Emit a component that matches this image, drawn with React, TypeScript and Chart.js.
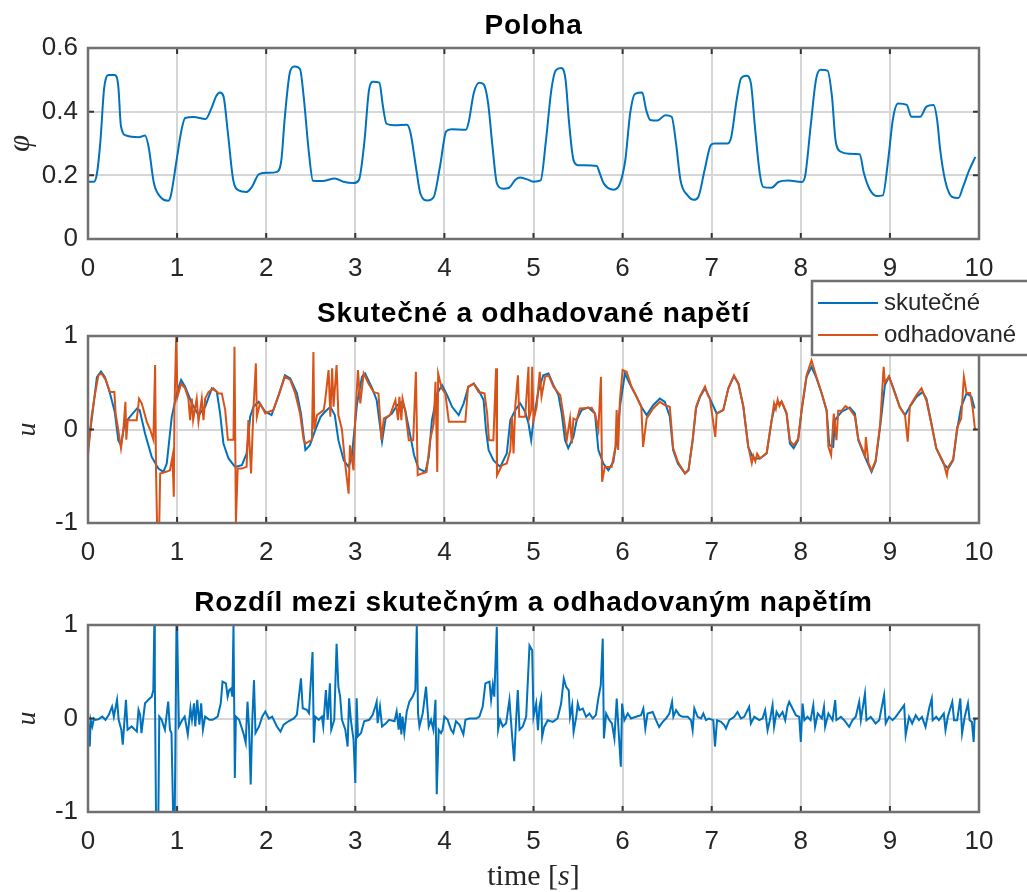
import { useEffect, useRef } from 'react';
import { Chart, registerables } from 'chart.js';

Chart.register(...registerables);

// ---- Poloha (position) ----
const polohaT = [
  0, 0.066, 0.1, 0.14, 0.18, 0.23, 0.3, 0.34, 0.37, 0.43, 0.57, 0.64, 0.68, 0.74, 0.82, 0.9, 0.93, 0.99,
  1.05, 1.09, 1.185, 1.32, 1.38, 1.44, 1.48, 1.52, 1.57, 1.63, 1.69, 1.78, 1.84, 1.92,
  2.02, 2.12, 2.17, 2.21, 2.27, 2.32, 2.38, 2.42, 2.48, 2.525, 2.63, 2.77, 2.865, 2.98,
  3.04, 3.1, 3.155, 3.2, 3.27, 3.31, 3.35, 3.44, 3.58, 3.62, 3.68, 3.73, 3.81, 3.88, 3.95,
  4.02, 4.08, 4.24, 4.27, 4.33, 4.39, 4.44, 4.49, 4.54, 4.59, 4.66, 4.72, 4.8, 4.85, 4.95,
  5.0, 5.08, 5.14, 5.2, 5.25, 5.31, 5.36, 5.4, 5.45, 5.5, 5.71, 5.745, 5.79, 5.9, 5.97,
  6.03, 6.085, 6.14, 6.22, 6.265, 6.31, 6.39, 6.48, 6.55, 6.6, 6.65, 6.73, 6.8, 6.85, 6.92, 6.99,
  7.03, 7.18, 7.22, 7.28, 7.33, 7.39, 7.44, 7.485, 7.54, 7.58, 7.67, 7.75, 7.86,
  8.01, 8.05, 8.11, 8.17, 8.22, 8.3, 8.35, 8.39, 8.45, 8.54, 8.66, 8.71, 8.77, 8.85, 8.92, 8.98,
  9.035, 9.09, 9.19, 9.24, 9.34, 9.41, 9.49, 9.53, 9.565, 9.62, 9.7, 9.77, 9.82, 9.89, 9.96,
];
const polohaPhi = [
  0.18, 0.18, 0.205, 0.31, 0.47, 0.515, 0.515, 0.48, 0.354, 0.325, 0.32, 0.325, 0.29, 0.175, 0.13, 0.12, 0.137, 0.24,
  0.343, 0.38, 0.383, 0.377, 0.407, 0.449, 0.46, 0.449, 0.333, 0.185, 0.153, 0.148, 0.164, 0.204,
  0.208, 0.211, 0.248, 0.386, 0.528, 0.542, 0.533, 0.449, 0.269, 0.183, 0.182, 0.19, 0.18, 0.176,
  0.185, 0.3, 0.47, 0.494, 0.491, 0.417, 0.362, 0.357, 0.359, 0.333, 0.227, 0.143, 0.121, 0.132, 0.227,
  0.338, 0.345, 0.343, 0.364, 0.459, 0.491, 0.486, 0.428, 0.29, 0.174, 0.158, 0.16, 0.187, 0.193, 0.185,
  0.18, 0.184, 0.31, 0.468, 0.53, 0.537, 0.5, 0.363, 0.247, 0.232, 0.229, 0.205, 0.174, 0.155, 0.174,
  0.247, 0.395, 0.456, 0.46, 0.405, 0.374, 0.372, 0.389, 0.384, 0.3, 0.184, 0.137, 0.123, 0.132, 0.216, 0.295,
  0.3, 0.3, 0.321, 0.437, 0.505, 0.513, 0.489, 0.353, 0.205, 0.163, 0.161, 0.179, 0.184,
  0.179, 0.2, 0.353, 0.5, 0.532, 0.529, 0.447, 0.31, 0.274, 0.268, 0.266, 0.205, 0.158, 0.135, 0.137, 0.247,
  0.379, 0.426, 0.421, 0.384, 0.384, 0.416, 0.421, 0.374, 0.279, 0.184, 0.132, 0.129, 0.163, 0.216, 0.258,
];

// ---- skutečné napětí (measured voltage) ----
const skutT = [
  0, 0.05, 0.1, 0.146, 0.19, 0.247, 0.3, 0.34, 0.37, 0.41, 0.47, 0.55, 0.58, 0.64, 0.715, 0.79, 0.846, 0.884, 0.94, 0.996,
  1.045, 1.09, 1.165, 1.24, 1.315, 1.39, 1.446, 1.483, 1.52, 1.577, 1.65, 1.727, 1.78, 1.82, 1.857, 1.914, 1.99,
  2.06, 2.14, 2.21, 2.27, 2.345, 2.39, 2.44, 2.49, 2.55, 2.61, 2.66, 2.72, 2.77, 2.81, 2.87, 2.925, 2.96,
  3.02, 3.075, 3.11, 3.19, 3.24, 3.3, 3.34, 3.41, 3.47, 3.525, 3.56, 3.62, 3.66, 3.71, 3.787, 3.825, 3.86, 3.92, 3.974,
  4.03, 4.086, 4.16, 4.216, 4.27, 4.33, 4.384, 4.44, 4.466, 4.496, 4.55, 4.627, 4.7, 4.74, 4.795, 4.85, 4.906, 4.944, 4.974,
  5.0, 5.056, 5.11, 5.168, 5.224, 5.28, 5.317, 5.354, 5.39, 5.448, 5.485, 5.54, 5.616, 5.69, 5.728, 5.784, 5.84, 5.896, 5.933, 5.97,
  6.026, 6.08, 6.138, 6.21, 6.27, 6.343, 6.418, 6.474, 6.53, 6.567, 6.62, 6.7, 6.74, 6.787, 6.824, 6.87, 6.925, 6.98,
  7.056, 7.13, 7.187, 7.25, 7.3, 7.355, 7.41, 7.467, 7.54, 7.617, 7.673, 7.71, 7.785, 7.84, 7.878, 7.92, 7.97,
  8.01, 8.065, 8.12, 8.17, 8.234, 8.29, 8.32, 8.364, 8.383, 8.458, 8.55, 8.607, 8.645, 8.72, 8.794, 8.84, 8.89, 8.944, 8.99,
  9.04, 9.11, 9.17, 9.224, 9.3, 9.366, 9.41, 9.467, 9.52, 9.6, 9.654, 9.71, 9.755, 9.8, 9.86, 9.916, 9.95,
];
const skutU = [
  -0.2, 0.17, 0.56, 0.62, 0.56, 0.386, 0.19, -0.114, -0.17, 0.064, 0.136, 0.225, 0.207, -0.043, -0.293, -0.418, -0.454, -0.364, 0.136, 0.386,
  0.53, 0.457, 0.28, 0.154, 0.243, 0.44, 0.404, 0.171, -0.15, -0.31, -0.4, -0.382, -0.257, 0.136, 0.243, 0.296, 0.19,
  0.154, 0.368, 0.58, 0.546, 0.386, 0.171, -0.22, -0.168, -0.007, 0.136, 0.19, 0.243, 0.154, -0.114, -0.329, -0.4, -0.293,
  0.28, 0.564, 0.6, 0.44, 0.314, -0.13, 0.118, 0.171, 0.26, 0.296, 0.207, -0.079, -0.275, -0.418, -0.454, -0.293, 0.1, 0.386, 0.475,
  0.368, 0.243, 0.154, 0.28, 0.457, 0.49, 0.42, 0.314, 0, -0.22, -0.329, -0.4, -0.257, 0.1, 0.207, 0.28, 0.19, 0.064, -0.114,
  0.1, 0.42, 0.58, 0.6, 0.475, 0.368, 0.171, -0.114, -0.2, -0.079, 0.1, 0.207, 0.236, 0.171, -0.22, -0.364, -0.436, -0.346, -0.114, 0.243,
  0.6, 0.49, 0.386, 0.243, 0.154, 0.26, 0.33, 0.296, 0.136, -0.22, -0.364, -0.47, -0.436, -0.114, 0.225, 0.35, 0.44, 0.33,
  0.171, 0.207, 0.44, 0.57, 0.49, 0.243, -0.186, -0.31, -0.31, -0.257, 0.1, 0.26, 0.296, 0.171, -0.15, -0.2, -0.114,
  0.207, 0.564, 0.67, 0.564, 0.386, 0.207, -0.168, -0.186, 0.1, 0.19, 0.236, 0.171, -0.114, -0.293, -0.454, -0.346, 0.029, 0.475, 0.564,
  0.44, 0.243, 0.154, 0.243, 0.35, 0.4, 0.33, 0.064, -0.2, -0.364, -0.418, -0.329, 0, 0.243, 0.386, 0.35, 0.225,
];

// ---- odhadované napětí (estimated voltage) ----
const odhadT = [
  0, 0.04, 0.07, 0.116, 0.15, 0.2, 0.247, 0.296, 0.31, 0.34, 0.37, 0.397, 0.42, 0.43, 0.446, 0.547, 0.573, 0.603, 0.66, 0.697,
  0.734, 0.753, 0.764, 0.775, 0.8, 0.81, 0.884, 0.92, 0.948, 0.963, 0.97, 0.99,
  1.004, 1.045, 1.09, 1.127, 1.146, 1.165, 1.18, 1.22, 1.24, 1.277, 1.296, 1.315, 1.352, 1.408, 1.465, 1.502, 1.54, 1.57,
  1.633, 1.644, 1.66, 1.68, 1.727, 1.78, 1.8, 1.83, 1.857, 1.884, 1.895, 1.93, 1.99,
  2.03, 2.08, 2.14, 2.21, 2.27, 2.326, 2.38, 2.42, 2.44, 2.513, 2.53, 2.54, 2.57, 2.645, 2.66, 2.7, 2.72, 2.74, 2.756, 2.79,
  2.81, 2.85, 2.886, 2.925, 2.94, 2.98,
  3.0, 3.03, 3.056, 3.094, 3.15, 3.206, 3.26, 3.295, 3.32, 3.39, 3.45, 3.48, 3.495, 3.517, 3.53, 3.56, 3.6, 3.65, 3.68, 3.7,
  3.747, 3.8, 3.84, 3.88, 3.9, 3.92, 3.93, 3.97,
  4.01, 4.05, 4.235, 4.265, 4.33, 4.384, 4.45, 4.48, 4.5, 4.55, 4.58, 4.59, 4.645, 4.7, 4.74, 4.757, 4.776, 4.795, 4.825, 4.84,
  4.906, 4.944, 4.95, 4.974, 4.985,
  5.0, 5.035, 5.07, 5.09, 5.13, 5.17, 5.224, 5.3, 5.336, 5.373, 5.41, 5.43, 5.448, 5.485, 5.52, 5.653, 5.69, 5.728, 5.757, 5.77,
  5.8, 5.877, 5.92, 5.933, 5.95, 5.97,
  6.0, 6.045, 6.1, 6.157, 6.21, 6.23, 6.27, 6.343, 6.418, 6.474, 6.53, 6.567, 6.62, 6.7, 6.74, 6.787, 6.824, 6.87, 6.925, 6.96, 6.98,
  7.04, 7.056, 7.13, 7.187, 7.25, 7.3, 7.355, 7.41, 7.45, 7.467, 7.49, 7.51, 7.54, 7.58, 7.617, 7.673, 7.7, 7.72, 7.74, 7.76,
  7.785, 7.84, 7.878, 7.92, 7.97,
  8.01, 8.065, 8.12, 8.17, 8.234, 8.29, 8.31, 8.34, 8.37, 8.4, 8.42, 8.458, 8.5, 8.55, 8.607, 8.645, 8.72, 8.73, 8.76, 8.794,
  8.84, 8.89, 8.93, 8.944, 8.99,
  9.04, 9.11, 9.17, 9.2, 9.224, 9.3, 9.355, 9.41, 9.467, 9.52, 9.6, 9.64, 9.654, 9.71, 9.755, 9.8, 9.83, 9.86, 9.9, 9.93, 9.955,
];
const odhadU = [
  -0.275, 0.136, 0.33, 0.58, 0.6, 0.53, 0.4, 0.4, 0.17, -0.007, -0.2, 0, 0.296, -0.11, 0.1, 0.1, 0.33, 0.28, 0.082, 0,
  -0.11, 0.69, -0.47, -1, -1, -0.47, -0.45, -0.436, -0.29, -0.72, 0.207, 1,
  0.35, 0.49, 0.44, 0.33, 0.1, 0.33, 0.1, 0.33, 0.082, 0.33, 0.1, 0.33, 0.4, 0.44, 0.386, 0.386, 0.207, -0.11,
  -0.11, 0.886, -1, -0.418, -0.418, -0.4, 0.1, -0.47, 0.225, 0.707, 0.136, 0.28, 0.171,
  0.19, 0.207, 0.368, 0.564, 0.53, 0.386, 0.171, -0.11, -0.15, -0.11, 0.83, 0, 0.154, 0.207, 0.296, 0.636, 0.136, 0.654, 0.243, 0.69,
  0.154, 0, -0.364, -0.686, -0.17, -0.436,
  0.136, 0.636, 0.28, 0.6, 0.49, 0.4, 0.386, -0.114, 0.118, 0.154, 0.314, 0.1, 0.35, 0.1, 0.33, 0.207, -0.114, -0.114, 0.618, -0.49,
  -0.47, -0.454, -0.114, 0.064, 0.51, -0.454, 0.6, 0.44,
  0.386, 0.082, 0.082, 0.457, 0.49, 0.4, 0.386, 0.171, -0.114, -0.114, 0.654, -0.49, -0.382, -0.364, -0.22, 0.136, -0.257, 0.243, 0.58, 0.136,
  0.136, 0.67, 0.118, 0.207, 0.67,
  0.1, 0.243, 0.618, 0.35, 0.564, 0.58, 0.457, 0.368, 0.154, -0.114, 0.118, -0.15, 0.118, 0.1, 0.225, 0.232, 0.171, 0, 0.564, -0.56,
  -0.4, -0.4, -0.186, 0.207, -0.22, 0.314,
  0.636, 0.618, 0.457, 0.35, 0.243, -0.186, 0.118, 0.225, 0.296, 0.26, 0.243, -0.2, -0.346, -0.47, -0.43, -0.1, 0.24, 0.36, 0.46, 0.36, 0.33,
  -0.08, 0.17, 0.21, 0.44, 0.58, 0.49, 0.25, -0.18, -0.36, -0.28, -0.34, -0.26, -0.31, -0.28, -0.25, 0.1, 0.28, 0.22, 0.32, 0.25,
  0.3, 0.18, -0.12, -0.17, -0.1,
  0.22, 0.58, 0.74, 0.58, 0.39, 0.2, -0.186, -0.275, 0.17, -0.114, 0.2, 0.2, 0.25, 0.22, 0.14, -0.1, -0.28, -0.08, -0.36, -0.44,
  -0.33, 0.05, 0.67, 0.5, 0.57,
  0.43, 0.24, 0.15, -0.13, 0.25, 0.37, 0.44, 0.31, 0.05, -0.2, -0.35, -0.49, -0.4, -0.32, 0.02, 0.118, 0.564, 0.39, 0.39, 0.22, 0,
];

// ---- rozdíl (difference between measured and estimated) ----
const rozdilT = [
  0, 0.02, 0.03, 0.048, 0.067, 0.085, 0.12, 0.16, 0.196, 0.233, 0.27, 0.29, 0.326, 0.344, 0.374, 0.39, 0.41, 0.426, 0.444, 0.49,
  0.548, 0.567, 0.585, 0.6, 0.64, 0.678, 0.715, 0.733, 0.744, 0.75, 0.763, 0.79, 0.8, 0.826, 0.863, 0.9, 0.92, 0.937, 0.955, 0.974, 0.993,
  1.0, 1.02, 1.05, 1.085, 1.12, 1.15, 1.167, 1.19, 1.204, 1.226, 1.25, 1.27, 1.29, 1.315, 1.363, 1.4, 1.455, 1.49, 1.51, 1.548,
  1.567, 1.585, 1.604, 1.62, 1.633, 1.648, 1.66, 1.696, 1.744, 1.77, 1.79, 1.807, 1.826, 1.844, 1.863, 1.88, 1.92, 1.955, 1.99,
  2.03, 2.067, 2.12, 2.16, 2.196, 2.25, 2.31, 2.344, 2.363, 2.39, 2.41, 2.456, 2.48, 2.52, 2.535, 2.55, 2.59, 2.625, 2.64, 2.67,
  2.69, 2.715, 2.73, 2.764, 2.79, 2.81, 2.83, 2.85, 2.888, 2.914, 2.93, 2.95, 2.98,
  3.0, 3.015, 3.03, 3.064, 3.1, 3.157, 3.195, 3.225, 3.24, 3.25, 3.277, 3.3, 3.345, 3.38, 3.44, 3.464, 3.487, 3.5, 3.517, 3.53,
  3.55, 3.577, 3.607, 3.644, 3.674, 3.69, 3.704, 3.72, 3.757, 3.794, 3.824, 3.85, 3.876, 3.9, 3.914, 3.936, 3.962, 3.98,
  4.0, 4.037, 4.075, 4.1, 4.13, 4.17, 4.213, 4.236, 4.28, 4.356, 4.393, 4.43, 4.46, 4.506, 4.524, 4.543, 4.56, 4.588, 4.603, 4.625,
  4.655, 4.693, 4.73, 4.76, 4.783, 4.805, 4.824, 4.843, 4.88, 4.918, 4.955, 4.985,
  5.0, 5.03, 5.05, 5.067, 5.086, 5.097, 5.12, 5.16, 5.217, 5.27, 5.31, 5.34, 5.366, 5.396, 5.41, 5.434, 5.45, 5.48, 5.497, 5.516,
  5.553, 5.59, 5.628, 5.665, 5.7, 5.73, 5.755, 5.777, 5.79, 5.815, 5.852, 5.88, 5.908, 5.934, 5.957, 5.98, 5.994,
  6.02, 6.058, 6.095, 6.15, 6.207, 6.233, 6.255, 6.28, 6.338, 6.375, 6.41, 6.45, 6.487, 6.525, 6.555, 6.57, 6.6, 6.637, 6.674, 6.73,
  6.768, 6.786, 6.805, 6.842, 6.88, 6.906, 6.936, 6.97,
  7.018, 7.037, 7.06, 7.104, 7.14, 7.16, 7.197, 7.253, 7.29, 7.328, 7.365, 7.42, 7.44, 7.478, 7.534, 7.57, 7.6, 7.627, 7.653, 7.683,
  7.7, 7.728, 7.758, 7.795, 7.825, 7.85, 7.87, 7.907, 7.945, 7.982,
  8.0, 8.02, 8.04, 8.075, 8.11, 8.14, 8.16, 8.19, 8.236, 8.26, 8.273, 8.31, 8.356, 8.386, 8.4, 8.45, 8.487, 8.543, 8.58, 8.617,
  8.655, 8.674, 8.72, 8.737, 8.785, 8.84, 8.88, 8.935, 8.953, 8.99,
  9.03, 9.066, 9.12, 9.16, 9.177, 9.215, 9.25, 9.29, 9.326, 9.36, 9.4, 9.44, 9.47, 9.48, 9.52, 9.55, 9.605, 9.624, 9.65, 9.7,
  9.72, 9.755, 9.79, 9.81, 9.84, 9.876, 9.895, 9.92, 9.94, 9.95, 9.96,
];
const rozdilU = [
  0, -0.3, -0.014, -0.085, 0, -0.014, -0.007, 0.02, -0.014, 0.04, 0.128, 0.02, 0.2, -0.014, -0.12, -0.28, -0.014, 0.2, -0.12, -0.085,
  -0.14, 0.092, 0.04, -0.156, 0.163, 0.2, 0.234, 0.305, 1, 0.41, -1, -1, 0.02, -0.014, -0.12, 0.18, -0.12, -0.156, -1, -1, 1,
  1, -0.085, -0.03, 0.02, -0.17, 0.11, -0.014, 0.163, -0.085, 0.2, -0.067, 0.163, -0.12, 0.02, -0.014, -0.014, 0.02, 0.163, 0.394, 0.376,
  0.234, 0.305, 0.32, 0.234, 1, -0.635, 0.02, -0.014, -0.156, -0.26, 0.18, -0.085, -0.705, -0.014, 0.41, -0.156, -0.085, 0.02, 0.074,
  0, 0.02, -0.085, -0.14, -0.067, -0.03, 0, 0.04, 0.2, 0.43, 0.11, 0.092, 0.057, 0.71, -0.26, 0.02, -0.014, 0.02, -0.085, 0.305,
  -0.014, 0.376, -0.12, -0.014, 0.8, 0.34, 0.234, -0.014, -0.12, -0.3, 0.216, -0.014, -0.227,
  -0.69, 0.216, -0.19, -0.156, -0.03, -0.014, 0.04, 0.128, 0.18, -0.05, 0.128, -0.085, -0.05, -0.014, -0.03, 0.074, -0.12, 0.057, -0.17, 0.02,
  -0.156, 0.074, 0.18, 0.234, 0.305, 1, 0.057, -0.085, 0.057, 0.34, -0.085, -0.014, -0.12, 0.2, -0.81, -0.12, -0.156, -0.12,
  0.02, -0.014, -0.12, -0.156, -0.03, -0.067, -0.17, -0.014, 0, 0, 0.02, 0.128, 0.376, 0.394, 0.2, 0.358, 0.234, 0.98, -0.12, -0.014,
  -0.085, -0.05, 0.2, -0.19, -0.457, -0.014, 0.305, -0.12, -0.085, 0.02, 0.78, 0.73,
  0.02, 0.16, -0.125, 0.125, 0.214, -0.196, -0.09, -0.018, -0.036, 0, 0.16, 0.427, 0.338, 0.3, 0.018, 0.142, -0.142, 0.018, 0.16, 0.09,
  0.107, 0.018, 0.053, 0, 0.036, 0.23, 0.356, 0.854, -0.214, 0.053, -0.018, -0.053, -0.214, 0.214, -0.16, -0.516, 0.16,
  -0.018, 0.053, 0, 0.018, 0.036, 0.107, -0.107, 0.053, 0.07, -0.018, -0.09, -0.036, 0, 0.053, 0.178, 0.018, 0.09, 0.036, 0.018, 0.018,
  -0.018, -0.125, 0.107, 0.018, 0, 0.053, -0.018, 0,
  -0.018, -0.3, -0.018, -0.036, -0.07, -0.107, -0.018, 0.018, 0.07, 0, 0.018, 0.125, -0.053, 0.018, -0.018, 0, 0.09, -0.125, -0.018, 0.142,
  -0.09, 0.07, 0.018, 0.07, -0.018, 0.125, 0.178, 0.107, 0.036, 0.018,
  -0.25, 0.16, -0.018, 0.018, -0.018, 0.142, -0.09, 0.053, 0, 0.125, -0.09, 0.053, -0.018, 0.196, -0.018, 0.018, -0.018, -0.09, -0.018, 0.018,
  0.178, -0.018, 0.267, -0.018, 0.018, -0.053, -0.018, 0.25, -0.053, 0.018,
  -0.018, 0.018, 0.09, 0.142, -0.178, 0.018, -0.053, 0.036, -0.018, 0.018, -0.09, 0.107, 0.214, -0.018, 0.018, -0.018, 0.053, -0.125, 0.018, 0.178,
  -0.018, -0.018, 0.214, -0.16, 0.018, 0.16, -0.018, -0.036, -0.25, -0.018, 0,
];

const xTicks = [0, 10];
const titles = ['Poloha', 'Skutečné a odhadované napětí', 'Rozdíl mezi skutečným a odhadovaným napětím'];
const legendLabels = ['skutečné', 'odhadované'];
const xTitleParts = ['time [', 's', ']'];

const W = 1027;
const H = 892;
const LEFT = 88;
const RIGHT = 979;
const XH = 40;
const BLUE = '#0072BD';
const ORANGE = '#D95319';
const GRID = '#d6d6d6';
const BOX = '#707070';
const TICK = '#333333';
const TEXT = '#262626';
const SANS = '"Liberation Sans", Arial, Helvetica, sans-serif';
const SERIF = '"Liberation Serif", "Times New Roman", serif';

const pts = (t: number[], v: number[]) => t.map((x, i) => ({ x, y: v[i] }));

type PanelCfg = {
  title: string;
  top: number;
  bottom: number;
  yMin: number;
  yMax: number;
  yStep: number;
  yLabel: string;
  yLabelSize: number;
  yLabelPad: number;
  datasets: any[];
  legend?: boolean;
  xTitle?: boolean;
};

function decorations(cfg: PanelCfg) {
  return {
    id: 'decorations',
    afterDatasetsDraw(chart: any) {
      const { ctx, chartArea: a, scales } = chart;
      const tl = 6;
      ctx.save();
      ctx.strokeStyle = TICK;
      ctx.lineWidth = 2;
      ctx.beginPath();
      scales.x.ticks.forEach((t: any) => {
        const px = scales.x.getPixelForValue(t.value);
        ctx.moveTo(px, a.top);
        ctx.lineTo(px, a.top + tl);
        ctx.moveTo(px, a.bottom);
        ctx.lineTo(px, a.bottom - tl);
      });
      scales.y.ticks.forEach((t: any) => {
        const py = scales.y.getPixelForValue(t.value);
        ctx.moveTo(a.left, py);
        ctx.lineTo(a.left + tl, py);
        ctx.moveTo(a.right, py);
        ctx.lineTo(a.right - tl, py);
      });
      ctx.stroke();
      ctx.strokeStyle = BOX;
      ctx.lineWidth = 2.5;
      ctx.strokeRect(a.left, a.top, a.right - a.left, a.bottom - a.top);
      ctx.restore();
    },
    afterDraw(chart: any) {
      const { ctx, chartArea: a } = chart;
      const cx = (a.left + a.right) / 2;
      ctx.save();
      // panel title
      ctx.fillStyle = '#000';
      ctx.font = `bold 28px ${SANS}`;
      (ctx as any).letterSpacing = '0.8px';
      ctx.textAlign = 'center';
      ctx.textBaseline = 'alphabetic';
      ctx.fillText(cfg.title, cx, a.top - 14);
      (ctx as any).letterSpacing = '0px';

      if (cfg.legend) {
        const lx = 812;
        const ly = 281;
        ctx.fillStyle = '#fff';
        ctx.fillRect(lx, ly, 240, 74);
        ctx.strokeStyle = BOX;
        ctx.lineWidth = 2.5;
        ctx.strokeRect(lx, ly, 240, 74);
        const rows = [
          { label: legendLabels[0], color: BLUE, y: ly + 22 },
          { label: legendLabels[1], color: ORANGE, y: ly + 54 },
        ];
        ctx.font = `24px ${SANS}`;
        ctx.textAlign = 'left';
        ctx.textBaseline = 'middle';
        rows.forEach((r) => {
          ctx.strokeStyle = r.color;
          ctx.lineWidth = 2;
          ctx.beginPath();
          ctx.moveTo(lx + 6, r.y);
          ctx.lineTo(lx + 66, r.y);
          ctx.stroke();
          ctx.fillStyle = TEXT;
          ctx.fillText(r.label, lx + 72, r.y);
        });
      }

      if (cfg.xTitle) {
        ctx.fillStyle = TEXT;
        ctx.textBaseline = 'alphabetic';
        ctx.textAlign = 'left';
        const fonts = [`30px ${SERIF}`, `italic 30px ${SERIF}`, `30px ${SERIF}`];
        const widths = xTitleParts.map((p, i) => {
          ctx.font = fonts[i];
          return ctx.measureText(p).width;
        });
        let x = cx - widths.reduce((s, w) => s + w, 0) / 2;
        xTitleParts.forEach((p, i) => {
          ctx.font = fonts[i];
          ctx.fillText(p, x, 885);
          x += widths[i];
        });
      }
      ctx.restore();
    },
  };
}

function makeChart(canvas: HTMLCanvasElement, cfg: PanelCfg) {
  const tickFont = { family: SANS, size: 26 };
  return new Chart(canvas, {
    type: 'line',
    data: { datasets: cfg.datasets },
    options: {
      responsive: false,
      maintainAspectRatio: false,
      animation: false,
      events: [],
      layout: { padding: { left: 0, right: W - RIGHT, top: cfg.top, bottom: H - cfg.bottom - XH } },
      plugins: { legend: { display: false }, tooltip: { enabled: false }, title: { display: false } },
      scales: {
        x: {
          type: 'linear',
          min: xTicks[0],
          max: xTicks[1],
          afterFit: (s: any) => {
            s.height = XH;
          },
          ticks: {
            stepSize: 1,
            padding: 14,
            autoSkip: false,
            maxRotation: 0,
            color: TEXT,
            font: tickFont,
            callback: (v: any) => String(v),
          },
          grid: { color: GRID, lineWidth: 2, drawTicks: false },
          border: { display: false },
        },
        y: {
          type: 'linear',
          min: cfg.yMin,
          max: cfg.yMax,
          afterFit: (s: any) => {
            s.width = LEFT;
          },
          ticks: {
            stepSize: cfg.yStep,
            padding: 10,
            color: TEXT,
            font: tickFont,
            callback: (v: any) => String(Math.round(Number(v) * 10) / 10),
          },
          grid: { color: GRID, lineWidth: 2, drawTicks: false },
          border: { display: false },
          title: {
            display: true,
            text: cfg.yLabel,
            color: TEXT,
            font: { family: SERIF, size: cfg.yLabelSize, style: 'italic' },
            padding: { top: cfg.yLabelPad, bottom: 0 },
          },
        },
      },
    } as any,
    plugins: [decorations(cfg)],
  });
}

const lineDs = (label: string, data: any[], color: string, extra: any = {}) => ({
  label,
  data,
  borderColor: color,
  backgroundColor: color,
  borderWidth: 2,
  pointRadius: 0,
  tension: 0,
  fill: false,
  ...extra,
});

export default function App() {
  const r1 = useRef<HTMLCanvasElement>(null);
  const r2 = useRef<HTMLCanvasElement>(null);
  const r3 = useRef<HTMLCanvasElement>(null);

  useEffect(() => {
    const charts: Chart[] = [];
    if (r1.current) {
      charts.push(
        makeChart(r1.current, {
          title: titles[0],
          top: 48,
          bottom: 239,
          yMin: 0,
          yMax: 0.6,
          yStep: 0.2,
          yLabel: 'φ',
          yLabelSize: 31,
          yLabelPad: 2,
          datasets: [lineDs('φ', pts(polohaT, polohaPhi), BLUE, { cubicInterpolationMode: 'monotone' })],
        })
      );
    }
    if (r2.current) {
      charts.push(
        makeChart(r2.current, {
          title: titles[1],
          top: 336,
          bottom: 523,
          yMin: -1,
          yMax: 1,
          yStep: 1,
          yLabel: 'u',
          yLabelSize: 28,
          yLabelPad: 11,
          legend: true,
          datasets: [
            lineDs(legendLabels[0], pts(skutT, skutU), BLUE, { order: 1 }),
            lineDs(legendLabels[1], pts(odhadT, odhadU), ORANGE, { order: 0 }),
          ],
        })
      );
    }
    if (r3.current) {
      charts.push(
        makeChart(r3.current, {
          title: titles[2],
          top: 625,
          bottom: 812,
          yMin: -1,
          yMax: 1,
          yStep: 1,
          yLabel: 'u',
          yLabelSize: 28,
          yLabelPad: 11,
          xTitle: true,
          datasets: [lineDs('rozdíl', pts(rozdilT, rozdilU), BLUE)],
        })
      );
    }
    return () => charts.forEach((c) => c.destroy());
  }, []);

  const cs: any = { position: 'absolute', left: 0, top: 0, width: W, height: H };
  return (
    <div style={{ position: 'absolute', left: 0, top: 0, width: W, height: H, background: '#fff', overflow: 'hidden' }}>
      <canvas ref={r1} width={W} height={H} style={cs} />
      <canvas ref={r2} width={W} height={H} style={cs} />
      <canvas ref={r3} width={W} height={H} style={cs} />
    </div>
  );
}
